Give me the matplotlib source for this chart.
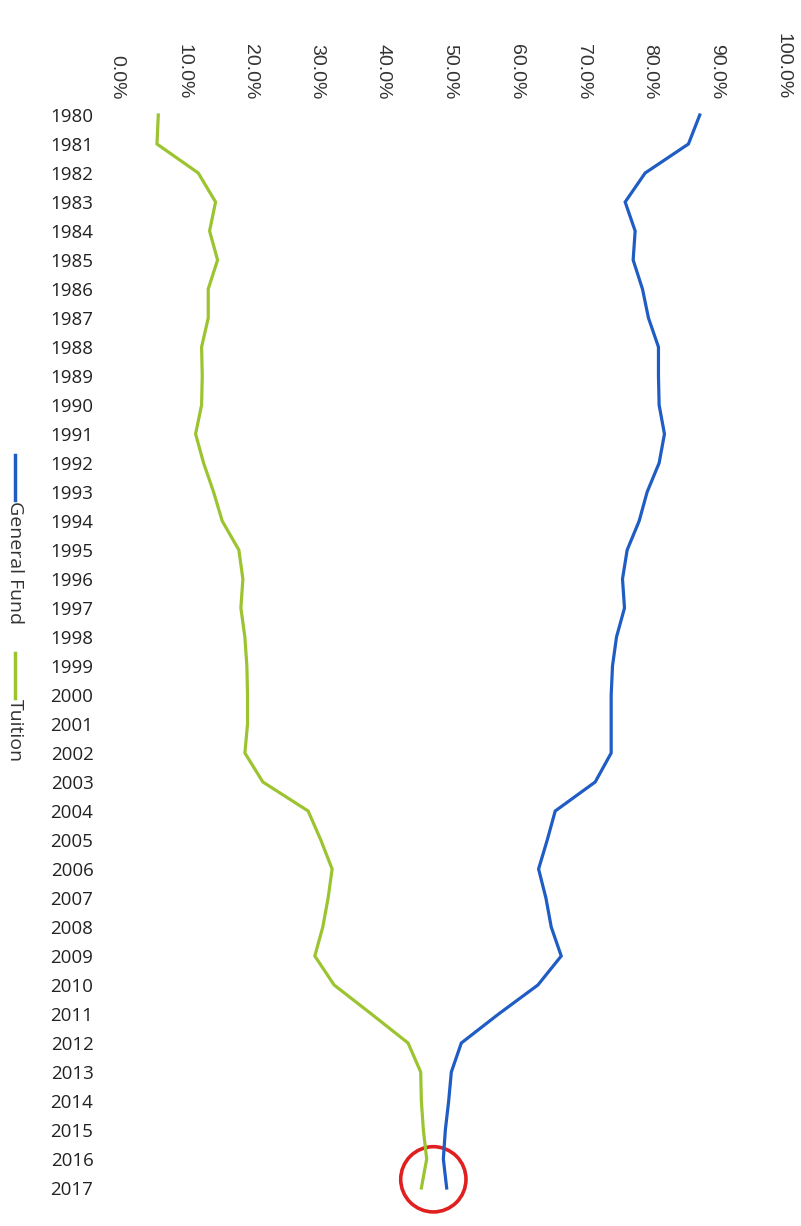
import matplotlib.pyplot as plt
from matplotlib.lines import Line2D
from matplotlib.patches import Ellipse
from matplotlib.ticker import PercentFormatter

# share of funding by year (percent)
years = list(range(1980, 2018))
general_fund = [87.5, 85.8, 79.3, 76.3, 77.8, 77.5, 78.9, 79.8, 81.3, 81.3,
                81.4, 82.2, 81.4, 79.6, 78.4, 76.6, 75.9, 76.2, 75.0, 74.4,
                74.2, 74.2, 74.2, 71.8, 65.8, 64.6, 63.3, 64.4, 65.2, 66.7,
                63.2, 57.3, 51.7, 50.2, 49.8, 49.3, 49.0, 49.5]
tuition = [6.2, 6.0, 12.2, 14.8, 13.9, 15.1, 13.7, 13.7, 12.7, 12.8,
           12.7, 11.8, 13.0, 14.5, 15.8, 18.3, 18.9, 18.6, 19.2, 19.5,
           19.6, 19.6, 19.2, 21.9, 28.7, 30.6, 32.3, 31.7, 30.9, 29.7,
           32.6, 38.2, 43.7, 45.6, 45.7, 46.0, 46.5, 45.7]
x_ticks = [0, 10, 20, 30, 40, 50, 60, 70, 80, 90, 100]

blue = '#1f5cc4'
green = '#9cc431'

W, H = 801, 1226
fig = plt.figure(figsize=(W / 100, H / 100), dpi=100)
ax = fig.add_axes([117 / W, (H - 1202.5) / H, (783 - 117) / W, (1202.5 - 100.5) / H])

ax.plot(general_fund, years, color=blue, lw=2.3, solid_joinstyle='miter')
ax.plot(tuition, years, color=green, lw=2.3, solid_joinstyle='miter')

ax.set_xlim(0, 100)
ax.set_ylim(2017.5, 1979.5)
ax.set_xticks(x_ticks)
ax.xaxis.set_major_formatter(PercentFormatter(decimals=1))
ax.xaxis.tick_top()
ax.tick_params(axis='x', length=0, pad=1, labelsize=14, labelrotation=-90,
               labelcolor='#333333')
for lbl in ax.get_xticklabels():
    lbl.set_fontfamily('Liberation Sans')
ax.set_yticks(years)
ax.set_yticklabels([str(y) for y in years], fontsize=13.5, color='#222222',
                   fontfamily='Open Sans')
ax.tick_params(axis='y', length=0, pad=17)
for s in ax.spines.values():
    s.set_visible(False)

# highlight circle around the crossing point
ax.add_patch(Ellipse((47.5, 2016.7), 9.8, 2.25, fill=False, ec='#e02020',
                     lw=2.6, clip_on=False))

# rotated legend on the left side
def fy(py):
    return (H - py) / H

fx = 15 / W
fig.add_artist(Line2D([fx, fx], [fy(455), fy(500)], color=blue, lw=2.5,
                      transform=fig.transFigure))
fig.text(fx, fy(501), 'General Fund', rotation=-90, ha='center', va='top',
         fontsize=14, color='#333333', fontfamily='Open Sans')
fig.add_artist(Line2D([fx, fx], [fy(653), fy(698)], color=green, lw=2.5,
                      transform=fig.transFigure))
fig.text(fx, fy(699), 'Tuition', rotation=-90, ha='center', va='top',
         fontsize=14, color='#333333', fontfamily='Open Sans')

fig.savefig('out.png', dpi=100)
